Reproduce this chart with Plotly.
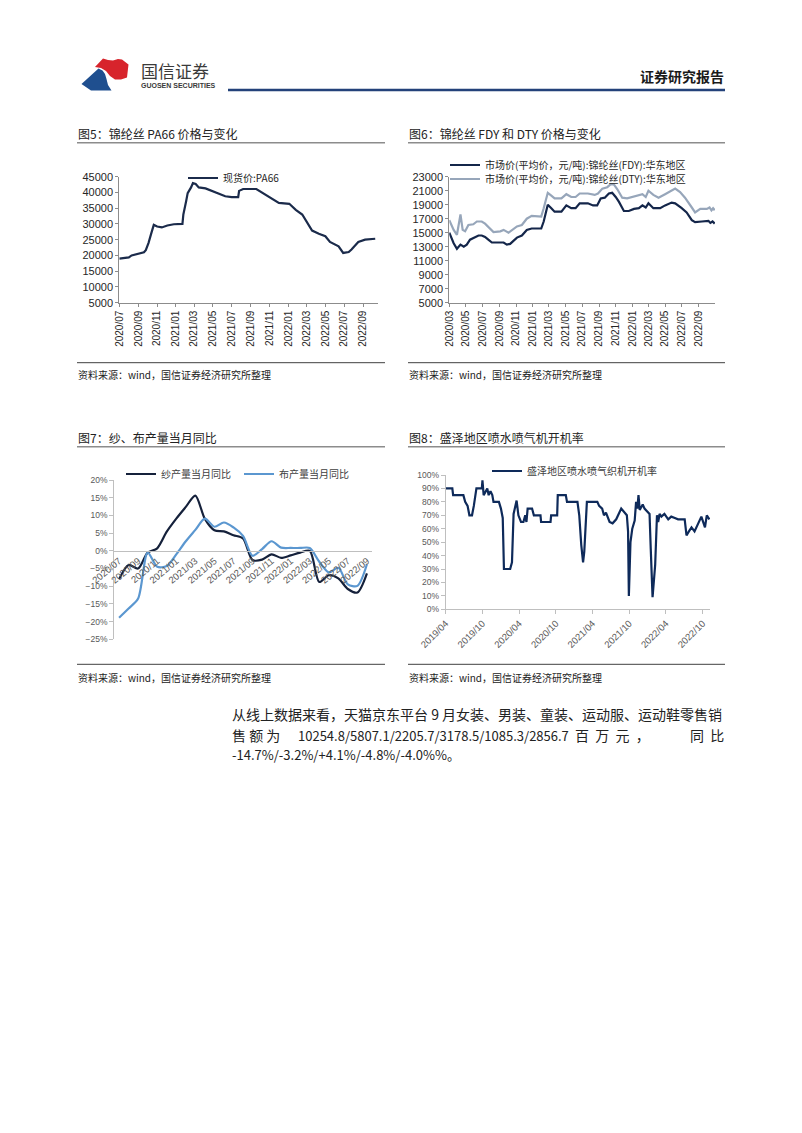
import plotly.graph_objects as go

W, H = 802, 1133
CJK = "Noto Sans CJK SC"
LAT = "Liberation Sans"


def fx(x):
    # page pixel -> paper x
    return x / W


def fy(y):
    # page pixel -> paper y (measured from top)
    return 1 - y / H


# ---------------- 图5: 锦纶丝 PA66 价格 ----------------
pa66_dates = ["2020-07-01", "2020-08-01", "2020-08-10", "2020-09-03", "2020-09-19", "2020-09-25",
              "2020-10-04", "2020-10-13", "2020-10-21", "2020-11-01", "2020-11-16", "2020-12-04",
              "2020-12-25", "2021-01-22", "2021-01-25", "2021-02-03", "2021-02-08", "2021-02-19",
              "2021-02-25", "2021-03-06", "2021-03-16", "2021-04-07", "2021-04-28", "2021-05-19",
              "2021-06-10", "2021-07-01", "2021-07-22", "2021-07-25", "2021-08-07", "2021-09-19",
              "2021-10-07", "2021-10-28", "2021-11-19", "2021-12-01", "2022-01-04", "2022-01-25",
              "2022-02-15", "2022-03-01", "2022-03-19", "2022-04-10", "2022-05-01", "2022-05-16",
              "2022-06-13", "2022-06-28", "2022-07-16", "2022-07-25", "2022-08-16", "2022-09-07",
              "2022-10-10"]
pa66_price = [19000, 19400, 20000, 20700, 21000, 21700, 24000, 27100, 29700, 29200, 28900, 29500,
              29900, 30000, 33000, 37200, 39800, 41600, 43000, 42700, 41600, 41300, 40500, 39500,
              38800, 38500, 38500, 40500, 41100, 41100, 40000, 38800, 37400, 36700, 36400, 34500,
              33000, 30800, 27900, 26900, 26100, 24300, 22900, 20800, 21100, 21900, 24300, 25000,
              25300]

# ---------------- 图6: 锦纶丝 FDY / DTY ----------------
fdy_dates = ["2020-03-01", "2020-03-17", "2020-03-29", "2020-04-11", "2020-04-23", "2020-05-04",
             "2020-05-16", "2020-06-04", "2020-06-16", "2020-06-28", "2020-07-10", "2020-07-22",
             "2020-08-04", "2020-09-16", "2020-09-28", "2020-10-10", "2020-10-22", "2020-11-04",
             "2020-11-22", "2020-12-10", "2020-12-28", "2021-02-01", "2021-02-10", "2021-02-25",
             "2021-03-10", "2021-03-22", "2021-04-16", "2021-05-04", "2021-05-22", "2021-06-07",
             "2021-06-22", "2021-07-22", "2021-08-10", "2021-08-25", "2021-09-07", "2021-09-22",
             "2021-10-07", "2021-10-19", "2021-11-01", "2021-11-13", "2021-12-01", "2021-12-19",
             "2022-01-07", "2022-01-25", "2022-02-07", "2022-02-19", "2022-03-01", "2022-03-19",
             "2022-04-13", "2022-05-01", "2022-05-25", "2022-06-07", "2022-07-01", "2022-07-19",
             "2022-08-07", "2022-08-19", "2022-09-13", "2022-10-07", "2022-10-14", "2022-10-22",
             "2022-10-30"]
fdy_price = [15000, 13500, 12700, 13300, 13000, 13300, 14000, 14400, 14600, 14600, 14400, 14000,
             13600, 13600, 13300, 13400, 13800, 14300, 14600, 15400, 15600, 15600, 16600, 19000,
             18500, 18000, 18000, 18900, 18500, 18500, 19200, 19200, 18900, 18900, 19900, 20000,
             20600, 20700, 20100, 19400, 18100, 18100, 18400, 18500, 18900, 18600, 19200, 18500,
             18500, 18900, 19300, 19200, 18500, 17900, 16800, 16500, 16600, 16700, 16400, 16600,
             16300]

dty_dates = ["2020-03-01", "2020-03-17", "2020-03-29", "2020-04-11", "2020-04-19", "2020-04-28",
             "2020-05-10", "2020-05-28", "2020-06-10", "2020-06-28", "2020-07-10", "2020-07-28",
             "2020-08-10", "2020-09-04", "2020-09-16", "2020-10-04", "2020-10-22", "2020-11-04",
             "2020-11-22", "2020-12-10", "2020-12-28", "2021-02-01", "2021-02-10", "2021-02-25",
             "2021-03-10", "2021-03-22", "2021-04-16", "2021-05-04", "2021-05-22", "2021-06-07",
             "2021-06-22", "2021-07-22", "2021-08-16", "2021-08-28", "2021-09-13", "2021-10-01",
             "2021-10-13", "2021-10-25", "2021-11-07", "2021-11-25", "2021-12-13", "2022-01-01",
             "2022-01-25", "2022-02-07", "2022-02-19", "2022-03-01", "2022-03-19", "2022-04-07",
             "2022-05-01", "2022-05-25", "2022-06-07", "2022-06-25", "2022-07-13", "2022-08-07",
             "2022-08-19", "2022-09-07", "2022-10-01", "2022-10-11", "2022-10-18", "2022-10-24",
             "2022-10-30"]
dty_price = [16800, 15400, 14700, 17600, 15400, 15200, 16100, 16200, 16600, 16600, 16300, 15600,
             15100, 15200, 15400, 15000, 15500, 15900, 16100, 17000, 17400, 17300, 18500, 20700,
             20300, 19900, 19900, 20500, 20100, 20100, 20600, 20600, 20400, 20600, 21300, 21500,
             21900, 21900, 21200, 20000, 19900, 20100, 20400, 20500, 20100, 21000, 20400, 20000,
             20500, 21100, 21300, 20800, 20000, 18600, 17900, 18400, 18400, 18600, 18200, 18500,
             18200]

# ---------------- 图7: 纱、布产量当月同比 (%) ----------------
yoy_months = ["2020/07", "2020/08", "2020/09", "2020/10", "2020/11", "2020/12", "2021/01",
              "2021/02", "2021/03", "2021/04", "2021/05", "2021/06", "2021/07", "2021/08",
              "2021/09", "2021/10", "2021/11", "2021/12", "2022/01", "2022/02", "2022/03",
              "2022/04", "2022/05", "2022/06", "2022/07", "2022/08", "2022/09"]
yarn_yoy = [-8.0, -4.0, -5.0, -0.5, 0.7, 5.4, 9.1, 12.4, 15.6, 9.0, 5.8, 5.5, 4.4, 3.5,
            -2.6, -2.5, -1.0, -2.0, -1.3, -0.5, 0.0, -8.8, -6.9, -7.8, -10.8, -11.8, -6.4]
fabric_yoy = [-18.9, -16.3, -13.5, -0.5, -4.5, -4.3, -1.0, 2.7, 5.9, 9.1, 6.8, 8.0, 6.6, 4.2,
              -1.4, 0.5, 2.7, 0.9, 0.8, 0.8, 0.8, -3.1, -6.1, -4.8, -9.5, -9.9, -3.8]

# ---------------- 图8: 盛泽地区喷水喷气织机开机率 (%) ----------------
loom_dates = ["2019-04-01", "2019-05-04", "2019-05-08", "2019-06-28", "2019-07-07", "2019-07-19",
              "2019-07-28", "2019-08-10", "2019-08-19", "2019-09-01", "2019-09-28", "2019-10-01",
              "2019-10-07", "2019-10-25", "2019-11-01", "2019-11-10", "2019-11-19", "2019-11-25",
              "2019-12-22", "2020-01-01", "2020-01-10", "2020-01-16", "2020-02-16", "2020-02-25",
              "2020-03-04", "2020-03-10", "2020-03-19", "2020-03-28", "2020-04-10", "2020-04-22",
              "2020-05-01", "2020-05-07", "2020-05-13", "2020-06-04", "2020-06-13", "2020-07-16",
              "2020-07-19", "2020-09-04", "2020-09-07", "2020-10-07", "2020-10-10", "2020-11-19",
              "2020-11-25", "2021-01-16", "2021-01-25", "2021-02-04", "2021-02-13", "2021-02-19",
              "2021-02-28", "2021-03-04", "2021-04-25", "2021-05-04", "2021-05-19", "2021-05-28",
              "2021-06-07", "2021-06-25", "2021-07-10", "2021-07-28", "2021-08-22", "2021-09-10",
              "2021-09-19", "2021-09-25", "2021-09-29", "2021-10-07", "2021-10-16", "2021-10-28",
              "2021-11-04", "2021-11-10", "2021-11-16", "2021-11-22", "2021-12-07", "2021-12-16",
              "2022-01-04", "2022-01-10", "2022-01-16", "2022-01-25", "2022-02-07", "2022-02-16",
              "2022-02-22", "2022-03-01", "2022-03-10", "2022-03-25", "2022-04-13", "2022-04-28",
              "2022-05-16", "2022-06-01", "2022-07-04", "2022-07-13", "2022-07-25", "2022-08-07",
              "2022-08-22", "2022-09-10", "2022-09-25", "2022-10-13", "2022-10-22", "2022-11-04"]
loom_rate = [90, 90, 85, 85, 80, 77, 70, 70, 77, 90,
             90, 96, 85, 90, 85, 88, 85, 80, 80, 75,
             68, 30, 30, 35, 71, 75, 81, 70, 65, 65,
             70, 65, 75, 75, 70, 70, 65, 65, 70, 70,
             85, 85, 80, 80, 70, 48, 35, 43, 70, 80,
             80, 77, 75, 70, 72, 65, 64, 67, 75, 71,
             70, 58, 10, 50, 60, 66, 80, 75, 85, 74,
             78, 75, 72, 71, 45, 9, 33, 70, 65, 71,
             69, 71, 67, 69, 68, 67, 67, 55, 58, 61,
             58, 64, 69, 61, 70, 67]

NAVY = "#14264a"

fig = go.Figure()

fig.add_trace(go.Scatter(x=pa66_dates, y=pa66_price, name="现货价:PA66", mode="lines",
                         line=dict(color="#1b2b4b", width=2.2), xaxis="x", yaxis="y",
                         legend="legend"))
fig.add_trace(go.Scatter(x=fdy_dates, y=fdy_price, name="市场价(平均价，元/吨):锦纶丝(FDY):华东地区",
                         mode="lines", line=dict(color=NAVY, width=2.2), xaxis="x2", yaxis="y2",
                         legend="legend2"))
fig.add_trace(go.Scatter(x=dty_dates, y=dty_price, name="市场价(平均价，元/吨):锦纶丝(DTY):华东地区",
                         mode="lines", line=dict(color="#97a6ba", width=2.2), xaxis="x2", yaxis="y2",
                         legend="legend3"))
fig.add_trace(go.Scatter(x=yoy_months, y=yarn_yoy, name="纱产量当月同比", mode="lines",
                         line=dict(color="#15213b", width=2.2, shape="spline", smoothing=0.8),
                         xaxis="x3", yaxis="y3", legend="legend4"))
fig.add_trace(go.Scatter(x=yoy_months, y=fabric_yoy, name="布产量当月同比", mode="lines",
                         line=dict(color="#5b97d0", width=2.2, shape="spline", smoothing=0.8),
                         xaxis="x3", yaxis="y3", legend="legend5"))
fig.add_trace(go.Scatter(x=loom_dates, y=loom_rate, name="盛泽地区喷水喷气织机开机率", mode="lines",
                         line=dict(color="#0e2a5a", width=2.2), xaxis="x4", yaxis="y4",
                         legend="legend6"))

AX = "#8c8c8c"
tick_dark = dict(family=LAT, size=11, color="#262626")
tick_gray = dict(family=LAT, size=9.5, color="#595959")

fig.update_layout(
    # chart 5
    xaxis=dict(domain=[fx(119.3), fx(378)], anchor="y", type="date",
               range=["2020-07-01", "2022-10-19"], tick0="2020-07-01", dtick="M2",
               tickformat="%Y/%m", tickangle=-90, showline=True, linecolor=AX,
               ticks="outside", ticklen=3, tickcolor=AX, showgrid=False, zeroline=False,
               tickfont=dict(family=LAT, size=10, color="#262626")),
    yaxis=dict(domain=[fy(302.7), fy(176.7)], anchor="x", range=[5000, 45000],
               tick0=5000, dtick=5000, tickformat="d", showline=True, linecolor=AX,
               ticks="outside", ticklen=3, tickcolor=AX, showgrid=False, zeroline=False,
               tickfont=tick_dark),
    # chart 6
    xaxis2=dict(domain=[fx(449.3), fx(715)], anchor="y2", type="date",
                range=["2020-03-01", "2022-10-31"], tick0="2020-03-01", dtick="M2",
                tickformat="%Y/%m", tickangle=-90, showline=True, linecolor=AX,
                ticks="outside", ticklen=3, tickcolor=AX, showgrid=False, zeroline=False,
                tickfont=dict(family=LAT, size=10, color="#262626")),
    yaxis2=dict(domain=[fy(302.7), fy(176.7)], anchor="x2", range=[5000, 23000],
                tick0=5000, dtick=2000, tickformat="d", showline=True, linecolor=AX,
                ticks="outside", ticklen=3, tickcolor=AX, showgrid=False, zeroline=False,
                tickfont=tick_dark),
    # chart 7: category labels sit on the zero line
    xaxis3=dict(domain=[fx(114.3), fx(371.7)], anchor="free", position=fy(550.7),
                type="category", range=[-0.5, 26.5], tickmode="array",
                tickvals=yoy_months[::2], tickangle=-40, showline=True, linecolor="#bfbfbf",
                ticks="", showgrid=False, zeroline=False, tickfont=tick_gray),
    yaxis3=dict(domain=[fy(639.3), fy(480)], anchor="x3", range=[-25, 20], dtick=5,
                ticksuffix="%", showline=True, linecolor="#bfbfbf", ticks="outside", ticklen=4,
                tickcolor="#bfbfbf", showgrid=False, zeroline=False,
                tickfont=dict(family=LAT, size=8.5, color="#595959")),
    # chart 8
    xaxis4=dict(domain=[fx(445.7), fx(710)], anchor="y4", type="date",
                range=["2019-04-01", "2022-11-07"], tick0="2019-04-01", dtick="M6",
                tickformat="%Y/%m", tickangle=-45, showline=True, linecolor="#bfbfbf",
                ticks="outside", ticklen=4, tickcolor="#bfbfbf", showgrid=False, zeroline=False,
                tickfont=dict(family=LAT, size=9.5, color="#595959")),
    yaxis4=dict(domain=[fy(609.3), fy(475)], anchor="x4", range=[0, 100], dtick=10,
                ticksuffix="%", showline=True, linecolor="#bfbfbf", ticks="outside", ticklen=4,
                tickcolor="#bfbfbf", showgrid=False, zeroline=False,
                tickfont=dict(family=LAT, size=8.5, color="#595959")),
)

# one small legend per series, placed like the original chart keys
leg = dict(bgcolor="rgba(0,0,0,0)", borderwidth=0, itemwidth=30, xanchor="left",
           yanchor="middle", tracegroupgap=0,
           font=dict(family=CJK, size=10, color="#262626"))
gray_font = dict(family=CJK, size=10, color="#404040")
fig.update_layout(
    legend=dict(leg, x=fx(183), y=fy(178)),
    legend2=dict(leg, x=fx(445), y=fy(165)),
    legend3=dict(leg, x=fx(445), y=fy(179)),
    legend4=dict(leg, x=fx(121), y=fy(474), font=gray_font),
    legend5=dict(leg, x=fx(239), y=fy(474), font=gray_font),
    legend6=dict(leg, x=fx(487), y=fy(471), font=gray_font),
)


def text(x, y, s, size, color="#222222", anchor="left", family=CJK):
    fig.add_annotation(x=fx(x), y=fy(y), xref="paper", yref="paper", text=s, showarrow=False,
                       xanchor=anchor, yanchor="middle", borderpad=0,
                       font=dict(family=family, size=size, color=color))


def hline(x0, x1, y, color, width):
    fig.add_shape(type="line", xref="paper", yref="paper", x0=fx(x0), x1=fx(x1),
                  y0=fy(y), y1=fy(y), line=dict(color=color, width=width))


def poly(points, color):
    path = "M " + " L ".join(f"{fx(a):.5f},{fy(b):.5f}" for a, b in points) + " Z"
    fig.add_shape(type="path", xref="paper", yref="paper", path=path,
                  fillcolor=color, line=dict(width=0))


# header: logo, company name, report type, rule
poly([(95, 67), (103, 58.5), (108, 60), (113, 60.5), (118, 59), (122, 59.5), (128.5, 64.5),
      (127, 77.5), (121, 79.5), (115, 79.5), (110, 76), (106, 71), (101, 68)], "#d7242c")
poly([(81.5, 84), (98.5, 68.5), (102.5, 70.5), (105, 74), (106.5, 79), (108, 85), (111.5, 90.5),
      (91, 90.5)], "#1f4f8f")
text(140, 70, "国信证券", 17, color="#3a3a3a")
text(140, 86, "<b>GUOSEN SECURITIES</b>", 7, color="#3a3a3a", family=LAT)
text(725, 76, "<b>证券研究报告</b>", 14, color="#1a1a1a", anchor="right")
hline(228, 725, 90, "#23427a", 2.5)

# chart titles and rules
text(77, 133, "图5：锦纶丝 PA66 价格与变化", 12)
text(408, 133, "图6：锦纶丝 FDY 和 DTY 价格与变化", 12)
text(77, 437.5, "图7：纱、布产量当月同比", 12)
text(408, 437.5, "图8：盛泽地区喷水喷气机开机率", 12)
hline(77, 385, 142.7, AX, 1.5)
hline(408, 725, 142.7, AX, 1.5)
hline(77, 385, 446.7, AX, 1.5)
hline(408, 725, 446.7, AX, 1.5)

# source notes
hline(77, 385, 362.7, "#404040", 1)
hline(408, 725, 362.7, "#404040", 1)
hline(77, 385, 664.3, "#404040", 1)
hline(408, 725, 664.3, "#404040", 1)
src = "资料来源：wind，国信证券经济研究所整理"
text(77, 375, src, 10)
text(408, 375, src, 10)
text(77, 677, src, 10)
text(408, 677, src, 10)

# body paragraph (second line is justified in the original)
text(231, 714, "从线上数据来看，天猫京东平台 9 月女装、男装、童装、运动服、运动鞋零售销", 14)
text(231, 735, "售 额 为", 14)
text(297, 735, "10254.8/5807.1/2205.7/3178.5/1085.3/2856.7", 13)
text(574, 735, "百  万  元  ，", 14)
text(725, 735, "同  比", 14, anchor="right")
text(231, 754, "-14.7%/-3.2%/+4.1%/-4.8%/-4.0%%。", 13)

fig.update_layout(width=W, height=H, autosize=False,
                  margin=dict(l=0, r=0, t=0, b=0, autoexpand=False),
                  paper_bgcolor="white", plot_bgcolor="white", showlegend=True)

fig.write_html("out.html", config={"displayModeBar": False},
               post_script="document.body.style.margin='0';")
